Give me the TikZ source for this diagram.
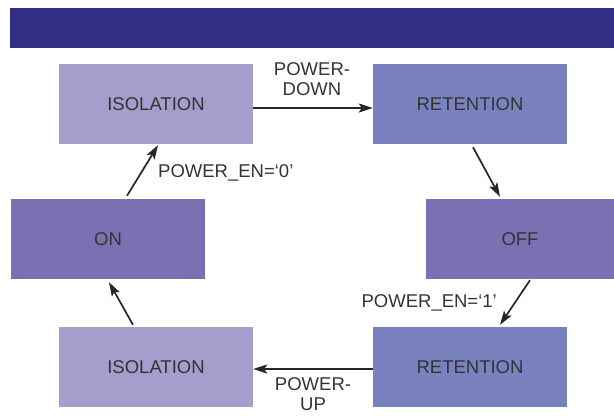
\documentclass[tikz,border=0pt]{standalone}
\usepackage{fontspec}
\setmainfont{Liberation Sans}
\usetikzlibrary{arrows.meta}
\definecolor{barblue}{RGB}{51,45,131}
\definecolor{isolilac}{RGB}{165,157,203}
\definecolor{retblue}{RGB}{122,129,191}
\definecolor{onpurple}{RGB}{124,112,178}
\definecolor{inkgray}{RGB}{51,51,51}
\begin{document}
\begin{tikzpicture}[x=1pt,y=-1pt,
    state/.style={shape=rectangle,minimum width=194pt,minimum height=80pt,
      inner sep=0pt,text=inkgray,font=\fontsize{18.5}{22}\selectfont},
    trans/.style={line width=1.7pt,draw=black!85,
      -{Stealth[length=14pt,width=9pt,inset=3pt]}},
    lbl/.style={text=inkgray,font=\fontsize{18.5}{20.5}\selectfont,
      align=center,inner sep=0pt}]
    \useasboundingbox (0,0) rectangle (614,416);
    \fill[barblue] (10,8) rectangle (614,48);
    % states
    \node[state,fill=isolilac] (isoTop) at (156,104) {ISOLATION};
    \node[state,fill=retblue] (retTop) at (470,104) {RETENTION};
    \node[state,fill=onpurple] (on) at (108,239) {ON};
    \node[state,fill=onpurple,minimum width=188pt] (off) at (520,239) {OFF};
    \node[state,fill=isolilac] (isoBot) at (156,367) {ISOLATION};
    \node[state,fill=retblue] (retBot) at (470,367) {RETENTION};
    % transitions
    \draw[trans] ([yshift=-4pt]isoTop.east) -- ([yshift=-4pt]retTop.west);
    \draw[trans] ([xshift=3pt,yshift=-3pt]retTop.south)
      -- ([xshift=-20pt,yshift=2pt]off.north);
    \draw[trans] ([xshift=10pt,yshift=-1pt]off.south)
      -- ([xshift=30pt,yshift=2pt]retBot.north);
    \draw[trans] ([yshift=-2pt]retBot.west) -- ([yshift=-2pt]isoBot.east);
    \draw[trans] ([xshift=-23pt,yshift=2pt]isoBot.north)
      -- ([xshift=1pt,yshift=-3pt]on.south);
    \draw[trans] ([xshift=19pt,yshift=3pt]on.north)
      -- ([xshift=2pt,yshift=-1pt]isoTop.south);
    % labels
    \node[lbl] (pdown) at (312,79) {POWER-\\DOWN};
    \node[lbl] (pup) at (313,394) {POWER-\\UP};
    \node[lbl,anchor=west] (enZero) at (158,173) {POWER\_EN=‘0’};
    \node[lbl,anchor=east] (enOne) at (497,303) {POWER\_EN=‘1’};
\end{tikzpicture}
\end{document}
